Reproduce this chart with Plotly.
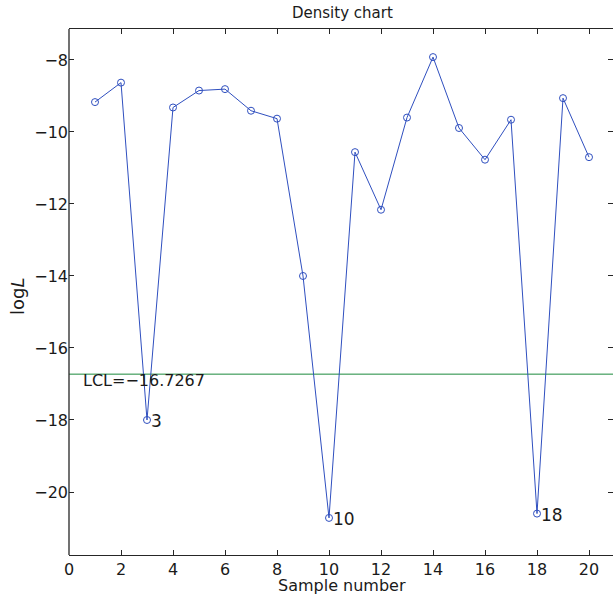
import plotly.graph_objects as go

# ---- data ----
sample_number = list(range(1, 21))
log_L = [-9.17, -8.63, -18.00, -9.32, -8.85, -8.81, -9.41, -9.63, -14.00, -20.72,
         -10.56, -12.16, -9.60, -7.92, -9.89, -10.77, -9.66, -20.60, -9.06, -10.70]
flagged = [3, 10, 18]
LCL = -16.7267
x_ticks = [0, 2, 4, 6, 8, 10, 12, 14, 16, 18, 20]
y_ticks = [-20, -18, -16, -14, -12, -10, -8]

FONT = "DejaVu Sans, Liberation Sans, Arial, sans-serif"
AX = "#262626"
TXT = "#1a1a1a"
BLUE = "#2f4fbf"
GREEN = "#1b8a3c"

W, H = 613, 602
L_M, T_M, B_M, R_M = 69, 29, 47, 0
px_per_x = 26.0
x_range = [0, (W - R_M - L_M) / px_per_x]
y_range = [-21.75, -7.14]

fig = go.Figure()

fig.add_trace(go.Scatter(
    x=x_range, y=[LCL, LCL], mode="lines",
    line=dict(color=GREEN, width=1), hoverinfo="skip", showlegend=False))

fig.add_trace(go.Scatter(
    x=sample_number, y=log_L, mode="lines+markers",
    line=dict(color=BLUE, width=1),
    marker=dict(symbol="circle-open", size=7, color=BLUE, line=dict(width=1, color=BLUE)),
    showlegend=False))

# invisible trace on right y axis (for mirrored ticks)
fig.add_trace(go.Scatter(x=[None], y=[None], yaxis="y2", showlegend=False))

annotations = []
for s in flagged:
    annotations.append(dict(
        x=s, y=log_L[s - 1], xref="x", yref="y", text=str(s),
        showarrow=False, xanchor="left", yanchor="middle", xshift=2, yshift=-1,
        font=dict(family=FONT, size=17, color=TXT)))

lcl_text = "LCL=" + f"{LCL:.4f}".replace("-", "\u2212")
annotations.append(dict(
    x=0.5, y=LCL, xref="x", yref="y", text=lcl_text, showarrow=False,
    xanchor="left", yanchor="middle", yshift=-6, xshift=-1,
    font=dict(family=FONT, size=16, color=TXT)))

annotations.append(dict(
    x=0.5, y=1, xref="paper", yref="paper", text="Density chart", showarrow=False,
    xanchor="center", yanchor="middle", yshift=16, xshift=1,
    font=dict(family=FONT, size=15, color=TXT)))

annotations.append(dict(
    x=0.5, y=0, xref="paper", yref="paper", text="Sample number", showarrow=False,
    xanchor="center", yanchor="middle", yshift=-30, xshift=1,
    font=dict(family=FONT, size=16, color=TXT)))

annotations.append(dict(
    x=0, y=0.5, xref="paper", yref="paper", text="log<i>L</i>", showarrow=False,
    xanchor="center", yanchor="middle", xshift=-52, yshift=-5, textangle=-90,
    font=dict(family=FONT, size=18, color=TXT)))

fig.update_layout(
    width=W, height=H,
    margin=dict(l=L_M, r=R_M, t=T_M, b=B_M, pad=0),
    paper_bgcolor="white", plot_bgcolor="white",
    showlegend=False,
    font=dict(family=FONT, size=16, color=TXT),
    xaxis=dict(
        range=x_range, tickvals=x_ticks, ticks="inside", ticklen=5, tickwidth=1,
        tickcolor=AX, showline=True, linecolor=AX, linewidth=1.3, mirror="ticks",
        showgrid=False, zeroline=False, tickfont=dict(family=FONT, size=16, color=TXT),
        fixedrange=True),
    yaxis=dict(
        range=y_range, tickvals=y_ticks, ticks="inside", ticklen=5, tickwidth=1,
        tickcolor=AX, showline=False, showgrid=False, zeroline=False,
        tickfont=dict(family=FONT, size=16, color=TXT), ticklabelstandoff=0,
        fixedrange=True),
    yaxis2=dict(
        range=y_range, tickvals=y_ticks, ticks="inside", ticklen=5, tickwidth=1,
        tickcolor=AX, overlaying="y", side="right", showticklabels=False,
        showline=False, showgrid=False, zeroline=False, fixedrange=True),
    annotations=annotations,
    shapes=[dict(type="line", xref="paper", yref="paper", x0=0, x1=0, y0=0, y1=1,
                 line=dict(color=AX, width=1.3))],
)

fig.write_html(
    "out.html",
    config={"displayModeBar": False},
    post_script="document.body.style.margin='0';document.body.style.overflow='hidden';",
)
